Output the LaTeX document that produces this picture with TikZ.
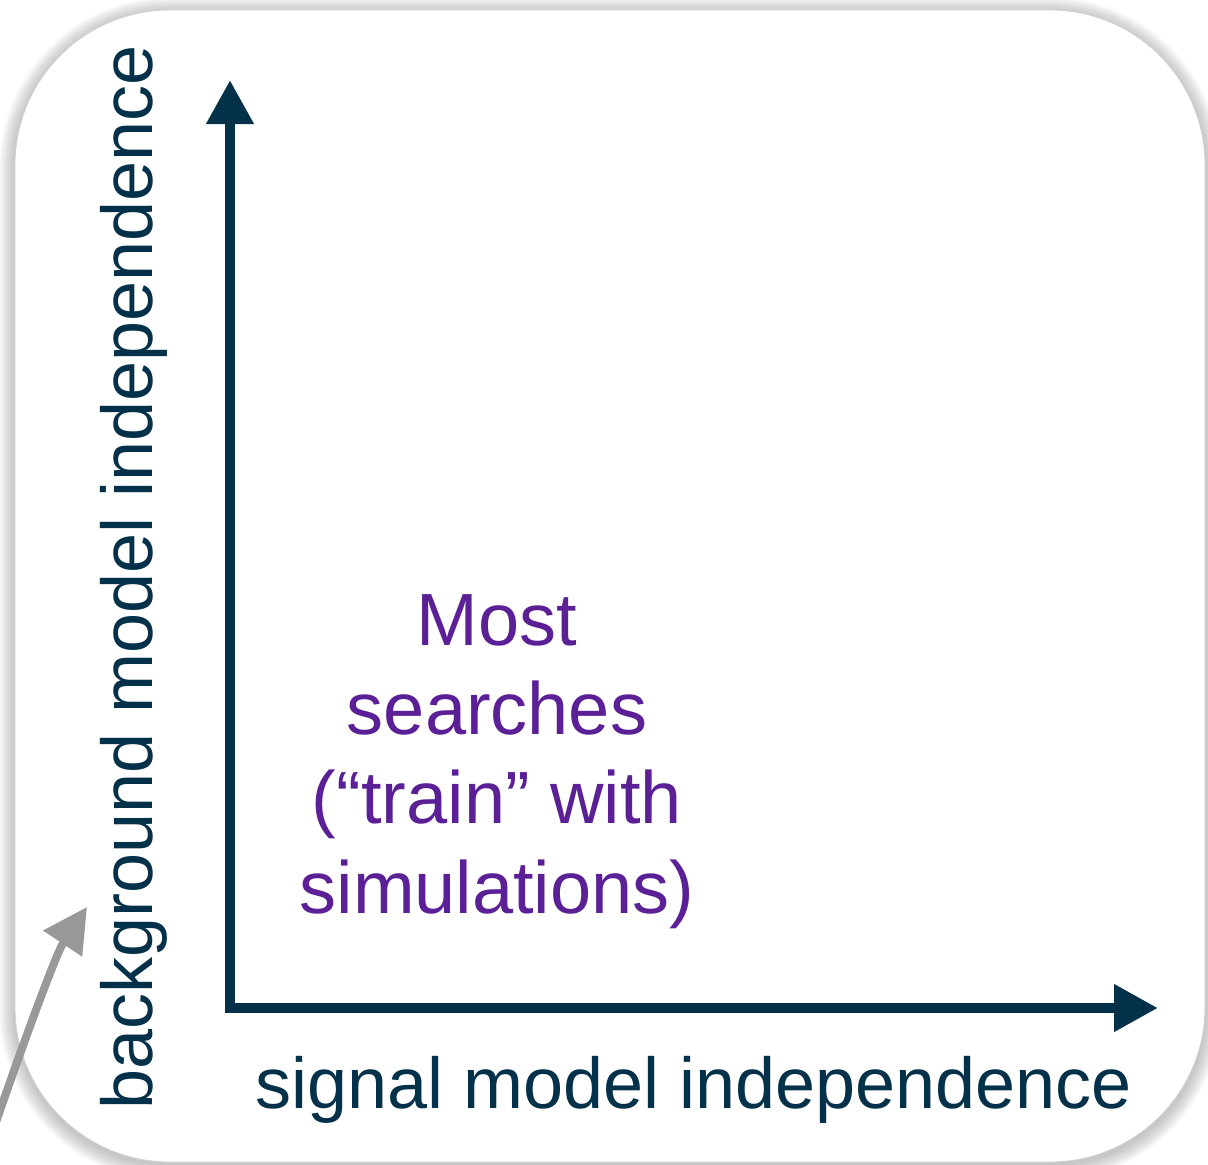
\documentclass[tikz,border=0pt]{standalone}
\usepackage{fontspec}
\setmainfont{Liberation Sans}
\usetikzlibrary{arrows.meta}
\definecolor{navy}{RGB}{3,49,74}
\definecolor{purp}{RGB}{91,31,150}
\definecolor{arrgray}{RGB}{153,153,153}
\tikzset{
  axisline/.style={draw=navy, line width=10.5pt, line join=miter,
    {Triangle[length=44pt,width=45pt]}-{Triangle[length=44pt,width=45pt]}},
  axislabel/.style={text=navy, inner sep=0pt, font=\fontsize{72}{86}\selectfont},
  note/.style={text=purp, inner sep=0pt, align=center, font=\fontsize{74}{89.3}\selectfont},
  pointer/.style={draw=arrgray, line width=8pt, -{Triangle[length=44pt,width=45pt]}},
}
\begin{document}
\begin{tikzpicture}[x=1pt,y=-1pt]
\useasboundingbox (0,0) rectangle (1208,1165);
\clip (0,0) rectangle (1208,1165);
% shadow of the panel
\foreach \i in {1,...,16}{
  \fill[black, opacity=0.014, rounded corners={(155+\i)*1pt}]
    ({15-\i},{10-\i+3}) rectangle ({1205+\i},{1162+\i+3});
}
\fill[white, rounded corners=155pt] (15,10) rectangle (1205,1162);
\draw[black!18, line width=0.8pt, rounded corners=155pt] (15,10) rectangle (1205,1162);
% axes
\coordinate (O) at (230,1008);
\coordinate (Y) at (230,80);
\coordinate (X) at (1158,1008);
\draw[axisline] (Y) -- (O) -- (X);
% axis labels
\node[axislabel, anchor=base west] (xl) at (255,1108) {signal model independence};
\node[axislabel, anchor=base west, rotate=90] (yl) at (152,1110) {background model independence};
% note
\node[note, anchor=base] (txt) at (497,913) {Most\\searches\\(“train” with\\simulations)};
% gray pointer
\coordinate (g0) at (-6,1128);
\coordinate (g1) at (87,907);
\draw[pointer] (g0) .. controls (12,1075) and (55,955) .. (g1);
\end{tikzpicture}
\end{document}
